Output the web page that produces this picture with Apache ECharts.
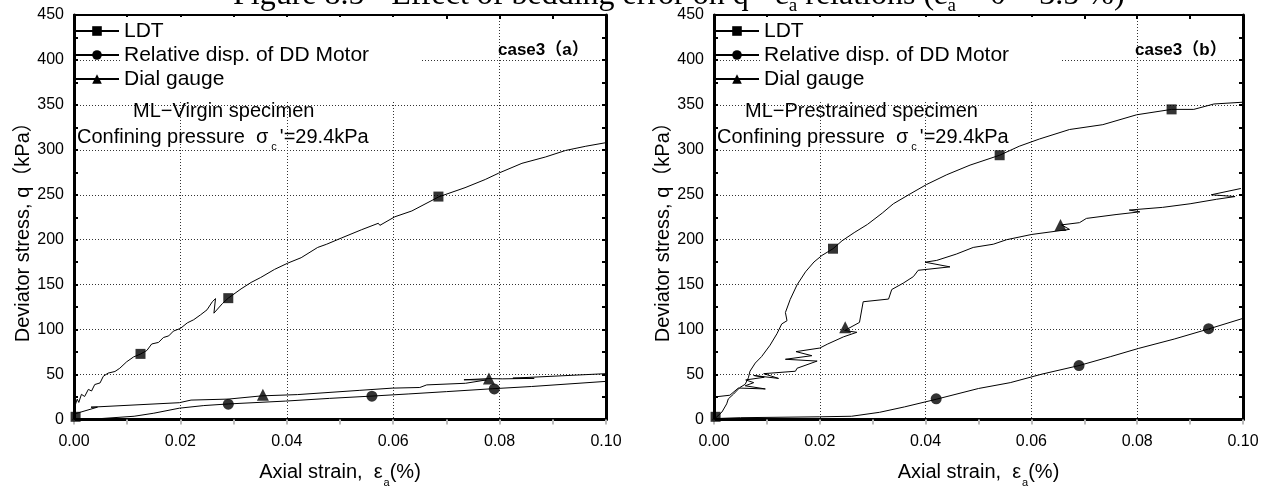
<!DOCTYPE html>
<html><head><meta charset="utf-8">
<script src="https://cdn.jsdelivr.net/npm/echarts@6/dist/echarts.min.js"></script>
<style>html,body{margin:0;padding:0;background:#fff}#c{width:1265px;height:493px}</style>
</head><body><div id="c"></div>
<script>
const strainTickLabels = ['0.00','0.02','0.04','0.06','0.08','0.10'];
const stressTickLabels = ['0','50','100','150','200','250','300','350','400','450'];
const seriesNames = ['LDT','Relative disp. of DD Motor','Dial gauge'];
const panelTags = ['case3（a）','case3（b）'];
const specimenTexts = ['ML−Virgin specimen','ML−Prestrained specimen'];

// ---- panel (a): ML-Virgin specimen ----
const ldtA = [[0,10],[0.0001,13.7],[0.0006,22.7],[0.0009,19],[0.0014,28],[0.002,25.6],[0.0027,33.5],[0.0033,31.7],[0.0039,38.9],[0.0049,40.7],[0.0055,48],[0.0064,51.6],[0.0077,53.4],[0.0086,57],[0.0099,64.2],[0.0112,69.6],[0.0124,72.5],[0.0137,76.8],[0.0146,84],[0.0159,85.8],[0.0168,91.2],[0.0178,93],[0.0187,98.4],[0.02,101.3],[0.0213,107.5],[0.0225,111],[0.0238,116.5],[0.025,122],[0.026,131],[0.0266,134.5],[0.0263,118.3],[0.0279,129],[0.029,135],[0.0314,145.3],[0.0333,152.5],[0.0336,151],[0.0351,158],[0.0377,167],[0.038,165.5],[0.0402,174],[0.0427,180],[0.0424,178],[0.0458,191.4],[0.0475,195],[0.0472,193.5],[0.0503,202],[0.054,211],[0.0572,218.3],[0.0575,216],[0.0603,225.5],[0.0635,232],[0.0638,230.5],[0.0686,247.8],[0.0735,257.9],[0.0773,267],[0.0776,265.5],[0.0798,274],[0.0842,285],[0.0886,292],[0.0889,290.5],[0.0924,299.3],[0.0962,304],[0.1,308]];
const ddA = [[0,0],[0.005,1],[0.0113,3.6],[0.015,7],[0.0198,12.6],[0.0244,15.5],[0.029,17.3],[0.0398,20.5],[0.048,23.5],[0.0555,25.9],[0.0628,28.4],[0.07,31],[0.0786,34.2],[0.086,36.7],[0.1,42.4]];
const dialA = [[0,6],[0.0044,13.7],[0.0032,13.7],[0.0198,18.7],[0.022,21.6],[0.029,22.7],[0.0353,26.3],[0.042,27.7],[0.0536,32.4],[0.0598,34.9],[0.065,35.6],[0.0663,38.5],[0.0736,40.3],[0.0775,44],[0.0733,44.2],[0.078,45.5],[0.0805,45.2],[0.0865,45.8],[0.0825,46],[0.1,51]];
const ldtMarkA = [[0.0003,3],[0.0125,73],[0.029,135],[0.0685,248]];
const ddMarkA = [[0.029,17],[0.056,26],[0.079,34]];
const dialMarkA = [[0.0355,27.5],[0.078,45.5]];

// ---- panel (b): ML-Prestrained specimen ----
const ldtB = [[0,0],[0.0015,8.3],[0.0024,17.4],[0.0027,22.9],[0.0037,28.3],[0.0049,35.6],[0.0059,39.2],[0.0065,46.4],[0.0068,53.7],[0.0078,62.8],[0.009,70],[0.0106,82.7],[0.0119,95.4],[0.0128,106.3],[0.0138,109.9],[0.0135,119],[0.0144,133.5],[0.0157,149.8],[0.0173,164.3],[0.0189,175.2],[0.0204,182.5],[0.0225,190],[0.0242,198.8],[0.0265,207.9],[0.029,217],[0.0318,229.6],[0.0339,240],[0.037,250.7],[0.0402,261.5],[0.044,272.3],[0.0484,283],[0.054,294],[0.0577,304],[0.0615,312],[0.0672,322.6],[0.0735,328],[0.0799,339],[0.0865,345],[0.0907,345],[0.0945,351],[0.1,353]];
const ddB = [[0,1],[0.005,2],[0.02,3],[0.026,3.6],[0.0313,8],[0.036,14],[0.042,22.5],[0.05,34.5],[0.056,41],[0.062,50.5],[0.069,60],[0.075,70],[0.0802,79],[0.087,89.5],[0.0935,100.7],[0.1,112.5]];
const dialB = [[0,25],[0.003,27],[0.0046,35],[0.0097,34],[0.0059,37.5],[0.0075,41],[0.006,44],[0.0095,47],[0.0075,49],[0.0122,45.7],[0.0094,51],[0.0154,53.7],[0.0157,57],[0.0195,65],[0.0135,67],[0.0185,71],[0.0155,75.5],[0.02,79.5],[0.0215,84],[0.0245,92],[0.027,97],[0.0247,99],[0.0275,108],[0.0282,131],[0.033,134],[0.0336,144.6],[0.0358,151.8],[0.0377,159],[0.0386,166],[0.0446,169.8],[0.0399,175],[0.0421,177],[0.0458,184],[0.049,191.4],[0.0528,195],[0.0553,200],[0.06,205.8],[0.0672,211.5],[0.0657,216.5],[0.0691,219],[0.0704,223.7],[0.076,228],[0.0805,231],[0.0785,233],[0.0848,236],[0.09,240],[0.095,245],[0.0985,248],[0.094,250],[0.0996,257]];
const ldtMarkB = [[0.0003,3],[0.0225,190],[0.054,294],[0.0865,345]];
const ddMarkB = [[0.042,23],[0.069,60],[0.0935,101]];
const dialMarkB = [[0.0248,102.5],[0.0655,216.5]];

const SANS = "'Liberation Sans', Arial, 'Noto Sans CJK JP', sans-serif";
const NARROW = "'Liberation Sans Narrow', 'Liberation Sans', Arial, sans-serif";
const grids = [{left:74, top:15, width:532, height:416}, {left:714, top:15, width:529, height:416}];
const panels = [
  {ldt:ldtA, dd:ddA, dial:dialA, ldtM:ldtMarkA, ddM:ddMarkA, dialM:dialMarkA},
  {ldt:ldtB, dd:ddB, dial:dialB, ldtM:ldtMarkB, ddM:ddMarkB, dialM:dialMarkB}
];
const symbols = ['rect','circle','triangle'];
const symSizes = [10,11,12];
const dotted = {type:[1,2], color:'#333', width:1};

const xAxis = [], yAxis = [], series = [], legend = [], title = [], graphic = [];
grids.forEach((g, i) => {
  xAxis.push({
    gridIndex:i, type:'value', min:0, max:0.1, interval:0.02, position:'bottom',
    axisLine:{show:true, onZero:false, lineStyle:{color:'#000', width:3}},
    axisTick:{show:true, inside:false, length:5, lineStyle:{color:'#bbb', width:2}},
    minorTick:{show:true, splitNumber:2, length:5, lineStyle:{color:'#bbb', width:2}},
    axisLabel:{formatter:v => strainTickLabels[Math.round(v/0.02)], fontSize:16, color:'#000', margin:14, fontFamily:NARROW},
    splitLine:{show:true, lineStyle:dotted},
    name:'Axial strain,  ε{s|a}(%)', nameLocation:'middle', nameGap:43,
    nameTextStyle:{fontSize:20, color:'#000', fontFamily:SANS, rich:{s:{fontSize:11, fontFamily:SANS, lineHeight:11, padding:[20,0,0,1]}}}
  });
  xAxis.push({
    gridIndex:i, type:'value', min:0, max:0.1, interval:0.01, position:'top',
    axisLine:{show:true, onZero:false, lineStyle:{color:'#000', width:2}},
    axisTick:{show:true, inside:true, length:4, lineStyle:{color:'#000', width:2}},
    axisLabel:{show:false}, splitLine:{show:false}
  });
  yAxis.push({
    gridIndex:i, type:'value', min:0, max:450, interval:50, position:'left',
    axisLine:{show:true, onZero:false, lineStyle:{color:'#000', width:3}},
    axisTick:{show:true, inside:true, length:4, lineStyle:{color:'#000', width:2}},
    minorTick:{show:true, splitNumber:2, length:4, lineStyle:{color:'#000', width:2}},
    axisLabel:{formatter:v => stressTickLabels[Math.round(v/50)], fontSize:16, color:'#000', margin:10, fontFamily:NARROW},
    splitLine:{show:true, lineStyle:dotted},
    name:'Deviator stress, q（kPa）', nameLocation:'middle', nameRotate:90, nameGap:40,
    nameTextStyle:{fontSize:20, color:'#000', fontFamily:SANS, padding:[0,20,0,0]}
  });
  yAxis.push({
    gridIndex:i, type:'value', min:0, max:450, interval:25, position:'right',
    axisLine:{show:true, onZero:false, lineStyle:{color:'#000', width:3}},
    axisTick:{show:true, inside:true, length:4, lineStyle:{color:'#000', width:2}},
    axisLabel:{show:false}, splitLine:{show:false}
  });
  const p = panels[i];
  const lines = [p.ldt, p.dd, p.dial], marks = [p.ldtM, p.ddM, p.dialM];
  lines.forEach((d, k) => {
    series.push({name:seriesNames[k], type:'line', xAxisIndex:2*i, yAxisIndex:2*i, data:d,
      symbol:symbols[k], showSymbol:false, lineStyle:{color:'#000', width:1}, itemStyle:{color:'#000'},
      z:2, silent:true, animation:false});
    series.push({type:'scatter', xAxisIndex:2*i, yAxisIndex:2*i, data:marks[k], symbol:symbols[k],
      symbolSize:symSizes[k], itemStyle:{color:'#000'}, z:3, silent:true, animation:false});
  });
  legend.push({left:g.left, top:20, orient:'vertical', data:seriesNames, itemWidth:44, itemHeight:12, itemGap:2,
    padding:0, selectedMode:false, z:5, textStyle:{fontSize:21, lineHeight:22, color:'#000', fontFamily:SANS}});
  graphic.push({type:'rect', z:1, silent:true, shape:{x:g.left+46, y:17, width:300, height:83}, style:{fill:'#fff'}});
  title.push({text:specimenTexts[i], left:g.left + (i===0?59:31), top:101, padding:0,
    textStyle:{fontSize:20, fontWeight:'normal', color:'#000', fontFamily:SANS}});
  title.push({text:"Confining pressure  σ{s|c}'=29.4kPa", left:g.left+3, top:126, padding:0,
    textStyle:{fontSize:20, lineHeight:22, fontWeight:'normal', color:'#000', fontFamily:SANS,
      rich:{s:{fontSize:11, fontFamily:SANS, lineHeight:11, padding:[20,3,0,3]}}}});
  title.push({text:panelTags[i], left:g.left+g.width-108, top:42, padding:0,
    textStyle:{fontSize:17, fontWeight:'bold', color:'#000', fontFamily:"'Liberation Sans', 'Noto Sans CJK JP', sans-serif"}});
});
title.unshift({text:'Figure 8.5 - Effect of bedding error on q - ε{s|a} relations (ε{s|a} = 0 ~ 3.5 %)',
  left:233, top:-22, padding:0,
  textStyle:{fontSize:32, lineHeight:36, fontWeight:'normal', color:'#000', fontFamily:"'Liberation Serif', 'Times New Roman', serif",
    rich:{s:{fontSize:19, fontFamily:"'Liberation Serif', serif", lineHeight:19, padding:[21,0,0,0]}}}});

const chart = echarts.init(document.getElementById('c'), null, {renderer:'canvas'});
chart.setOption({animation:false, backgroundColor:'#fff', grid:grids, xAxis, yAxis, series, legend, title, graphic});
</script></body></html>
